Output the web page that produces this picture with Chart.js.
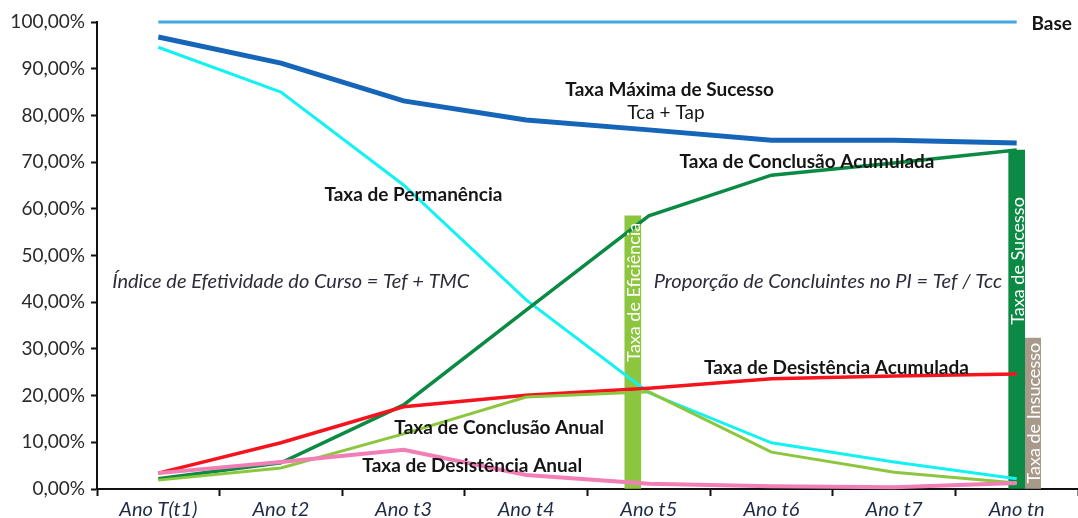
<!DOCTYPE html>
<html>
<head>
<meta charset="utf-8">
<script src="https://cdn.jsdelivr.net/npm/chart.js@4.4.0/dist/chart.umd.min.js"></script>
<style>
  html, body { margin: 0; padding: 0; background: #fff; overflow: hidden; }
</style>
</head>
<body>
<canvas id="taxasChart" width="1078" height="518"></canvas>
<script>
// ====================== Data ======================
const anos = ["Ano T(t1)", "Ano t2", "Ano t3", "Ano t4", "Ano t5", "Ano t6", "Ano t7", "Ano tn"];
const yTicks = [0, 10, 20, 30, 40, 50, 60, 70, 80, 90, 100];

const base = [100, 100, 100, 100, 100, 100, 100, 100];
const taxaMaximaSucesso = [96.8, 91.2, 83.1, 79.0, 76.9, 74.7, 74.7, 74.1];
const taxaPermanencia = [94.6, 85.0, 65.1, 40.5, 20.6, 9.9, 5.8, 2.2];
const conclusaoAcumulada = [2.2, 5.6, 18.0, 38.3, 58.5, 67.2, 69.8, 72.6];
const desistenciaAcumulada = [3.4, 9.9, 17.6, 20.1, 21.6, 23.6, 24.2, 24.6];
const conclusaoAnual = [1.9, 4.5, 11.8, 19.7, 20.8, 7.9, 3.6, 1.3];
const desistenciaAnual = [3.4, 5.8, 8.4, 3.0, 1.1, 0.6, 0.4, 1.3];

const taxaEficiencia = [null, null, null, null, 58.5, null, null, null];
const taxaSucesso = [null, null, null, null, null, null, null, 72.6];
const taxaInsucesso = [null, null, null, null, null, null, null, 32.3];

// text notes: [text, category position, value, style, align]
const notas = [
  ["Base", 7.12, 99.6, "bold", "left"],
  ["Taxa Máxima de Sucesso", 4.17, 85.4, "bold", "center"],
  ["Tca + Tap", 4.14, 80.5, "normal", "center"],
  ["Taxa de Conclusão Acumulada", 5.29, 70.0, "bold", "center"],
  ["Taxa de Permanência", 2.08, 63.0, "bold", "center"],
  ["Índice de Efetividade do Curso = Tef + TMC", 1.08, 44.5, "italic", "center"],
  ["Proporção de Concluintes no PI = Tef / Tcc", 5.46, 44.5, "italic", "center"],
  ["Taxa de Desistência Acumulada", 5.53, 25.9, "bold", "center"],
  ["Taxa de Conclusão Anual", 2.78, 13.1, "bold", "center"],
  ["Taxa de Desistência Anual", 2.56, 4.9, "bold", "center"]
];

// label inside the vertical bars: [dataset label, value where text ends]
const barTextos = [
  ["Taxa de Eficiência", 57.0],
  ["Taxa de Sucesso", 62.5],
  ["Taxa de Insucesso", 31.3]
];

const FONT = "Lato, 'Open Sans', sans-serif";

// ====================== Plugins ======================
const notasPlugin = {
  id: "notas",
  afterDatasetsDraw(chart) {
    const ctx = chart.ctx;
    const x = chart.scales.x, y = chart.scales.y;
    const step = x.getPixelForValue(1) - x.getPixelForValue(0);
    ctx.save();
    ctx.textBaseline = "middle";
    notas.forEach(([txt, pos, val, style, align]) => {
      const px = x.getPixelForValue(0) + pos * step;
      const py = y.getPixelForValue(val);
      if (style === "bold") ctx.font = "bold 19px " + FONT;
      else if (style === "italic") ctx.font = "italic 20px " + FONT;
      else ctx.font = "19px " + FONT;
      ctx.fillStyle = style === "italic" ? "#2b2b3a" : "#151515";
      ctx.textAlign = align;
      ctx.fillText(txt, px, py);
    });

    // rotated white text inside the bars
    ctx.font = "18px " + FONT;
    ctx.fillStyle = "#ffffff";
    ctx.textAlign = "right";
    barTextos.forEach(([label, val]) => {
      const i = chart.data.datasets.findIndex(d => d.label === label);
      const meta = chart.getDatasetMeta(i);
      meta.data.forEach((bar, k) => {
        if (chart.data.datasets[i].data[k] == null) return;
        ctx.save();
        ctx.translate(bar.x, y.getPixelForValue(val));
        ctx.rotate(-Math.PI / 2);
        ctx.fillText(label, 0, 1);
        ctx.restore();
      });
    });
    ctx.restore();
  }
};

// ====================== Chart ======================
const linha = (label, data, color, width) => ({
  type: "line",
  label: label,
  data: data,
  borderColor: color,
  borderWidth: width,
  pointRadius: 0,
  tension: 0,
  fill: false,
  clip: 6,
  order: 0
});

const barra = (label, data, color) => ({
  type: "bar",
  label: label,
  data: data,
  backgroundColor: color,
  barThickness: 16,
  order: 10
});

const ctx = document.getElementById("taxasChart").getContext("2d");
new Chart(ctx, {
  data: {
    labels: anos,
    datasets: [
      barra("Taxa de Eficiência", taxaEficiencia, "#8cc63f"),
      barra("Taxa de Sucesso", taxaSucesso, "#0a8a43"),
      barra("Taxa de Insucesso", taxaInsucesso, "#a89a8b"),
      linha("Base", base, "#3fa9e0", 3),
      linha("Taxa Máxima de Sucesso", taxaMaximaSucesso, "#1565b8", 5),
      linha("Taxa de Desistência Anual", desistenciaAnual, "#f27eb6", 4),
      linha("Taxa de Conclusão Anual", conclusaoAnual, "#8cc63f", 3),
      linha("Taxa de Desistência Acumulada", desistenciaAcumulada, "#f5141e", 3.5),
      linha("Taxa de Conclusão Acumulada", conclusaoAcumulada, "#0b8a44", 3.5),
      linha("Taxa de Permanência", taxaPermanencia, "#13f2f2", 3)
    ]
  },
  options: {
    responsive: false,
    animation: false,
    layout: { padding: { top: 22, right: 0, left: 0, bottom: 0 } },
    plugins: {
      legend: { display: false },
      tooltip: { enabled: false }
    },
    scales: {
      x: {
        offset: true,
        grid: {
          offset: true,
          drawOnChartArea: false,
          drawTicks: true,
          tickLength: 7,
          tickWidth: 2,
          tickColor: "#111"
        },
        border: { display: true, color: "#111", width: 2 },
        ticks: {
          color: "#1f2a44",
          font: { family: FONT, size: 20, style: "italic" },
          padding: 2,
          maxRotation: 0,
          autoSkip: false
        },
        afterFit: scale => { scale.height = 29; }
      },
      y: {
        min: 0,
        max: 100,
        afterBuildTicks: scale => { scale.ticks = yTicks.map(v => ({ value: v })); },
        grid: {
          drawOnChartArea: false,
          drawTicks: true,
          tickLength: 6,
          tickWidth: 2,
          tickColor: "#111"
        },
        border: { display: true, color: "#111", width: 2 },
        ticks: {
          color: "#2a2a2a",
          font: { family: FONT, size: 19 },
          padding: 6,
          callback: v => v.toFixed(2).replace(".", ",") + "%"
        },
        afterFit: scale => { scale.width = 97; }
      }
    }
  },
  plugins: [notasPlugin]
});
</script>
</body>
</html>
